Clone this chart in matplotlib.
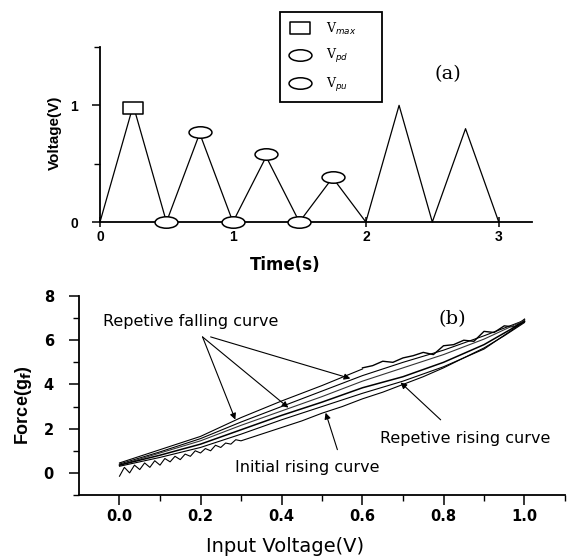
import matplotlib
matplotlib.use("Agg")
import matplotlib.pyplot as plt
from matplotlib.path import Path
from matplotlib.transforms import Affine2D
from matplotlib.ticker import FixedLocator

# ---------------- data: panel (a) ----------------
time_s = [0.0, 0.25, 0.5, 0.75, 1.0, 1.25, 1.5, 1.75, 2.0, 2.25, 2.5, 2.75, 3.0]
volt_v = [0.0, 1.0, 0.0, 0.76, 0.0, 0.56, 0.0, 0.38, 0.0, 1.0, 0.0, 0.8, 0.0]
vmax_t = [0.25]
vmax_v = [0.98]
vpd_t = [0.75, 1.25, 1.75]
vpd_v = [0.77, 0.58, 0.39]
vpu_t = [0.5, 1.0, 1.5]
vpu_v = [0.0, 0.0, 0.0]
legend_labels = ["V$_{max}$", "V$_{pd}$", "V$_{pu}$"]

# ---------------- data: panel (b) ----------------
grid_x = [0.0, 0.1, 0.2, 0.3, 0.4, 0.5, 0.6, 0.7, 0.8, 0.9, 1.0]
fall_top = [0.45, 1.05, 1.65, 2.5, 3.25, 3.95, 4.7, 5.2, 5.75, 6.4, 6.95]
fall_2 = [0.4, 0.95, 1.55, 2.3, 3.0, 3.7, 4.4, 5.0, 5.55, 6.2, 6.9]
fall_3 = [0.35, 0.9, 1.45, 2.15, 2.8, 3.45, 4.15, 4.75, 5.35, 6.05, 6.9]
rise_b = [0.35, 0.8, 1.3, 1.95, 2.6, 3.2, 3.85, 4.35, 5.0, 5.8, 6.85]
rise_a = [0.3, 0.7, 1.15, 1.75, 2.4, 3.0, 3.6, 4.15, 4.8, 5.6, 6.85]

top_wavy_x = [0.6, 0.625, 0.65, 0.675, 0.7, 0.725, 0.75, 0.775, 0.8, 0.825, 0.85,
              0.875, 0.9, 0.925, 0.95, 0.975, 1.0]
top_wavy_y = [4.75, 4.85, 5.05, 5.0, 5.2, 5.3, 5.45, 5.35, 5.75, 5.8, 6.0,
              5.95, 6.4, 6.35, 6.65, 6.6, 6.95]

init_x = [0.0, 0.012, 0.025, 0.037, 0.05, 0.062, 0.075, 0.087, 0.1, 0.112, 0.125,
          0.137, 0.15, 0.162, 0.175, 0.187, 0.2, 0.212, 0.225, 0.237, 0.25, 0.262,
          0.275, 0.287, 0.3, 0.35, 0.4, 0.45, 0.5, 0.55, 0.6, 0.65, 0.7, 0.75,
          0.8, 0.85, 0.9, 0.95, 1.0]
init_y = [-0.15, 0.25, 0.0, 0.35, 0.15, 0.45, 0.25, 0.55, 0.35, 0.65, 0.5, 0.75,
          0.6, 0.85, 0.75, 1.0, 0.9, 1.1, 1.0, 1.25, 1.15, 1.35, 1.3, 1.5, 1.45,
          1.75, 2.05, 2.35, 2.7, 3.0, 3.35, 3.65, 4.0, 4.35, 4.75, 5.2, 5.65, 6.2, 6.8]

# ---------------- figure ----------------
W, H = 572, 556
fig = plt.figure(figsize=(W / 100, H / 100), dpi=100)

def fx(px):
    return px / W

def fy(py):
    return 1 - py / H

# Panel (a)
axa = fig.add_axes([fx(100), fy(222), fx(532) - fx(100), fy(47) - fy(222)])
axa.plot(time_s, volt_v, color="black", lw=0.9, zorder=2, clip_on=False)

ell = Path.unit_circle().transformed(Affine2D().scale(1.0, 0.5))
rect = Path.unit_rectangle().transformed(Affine2D().translate(-0.5, -0.5).scale(1.0, 0.62))

axa.plot(vmax_t, vmax_v, ls="none", marker=rect, ms=15, mfc="white", mec="black",
         mew=1.1, zorder=3, clip_on=False, label=legend_labels[0])
axa.plot(vpd_t, vpd_v, ls="none", marker=ell, ms=16.5, mfc="white", mec="black",
         mew=1.1, zorder=3, clip_on=False, label=legend_labels[1])
axa.plot(vpu_t, vpu_v, ls="none", marker=ell, ms=16.5, mfc="white", mec="black",
         mew=1.1, zorder=3, clip_on=False, label=legend_labels[2])

axa.set_xlim(0, 3.25)
axa.set_ylim(0, 1.5)
for s in ("top", "right"):
    axa.spines[s].set_visible(False)
for s in ("left", "bottom"):
    axa.spines[s].set_linewidth(1.3)
axa.set_xticks([0, 1, 2, 3])
axa.set_yticks([0, 1])
axa.yaxis.set_minor_locator(FixedLocator([0.5, 1.5]))
axa.tick_params(axis="y", which="major", direction="out", length=6, width=1.1, pad=10,
                labelsize=10)
axa.tick_params(axis="y", which="minor", direction="out", length=4, width=1.0)
axa.tick_params(axis="x", which="major", direction="inout", length=7, width=1.1, pad=2,
                labelsize=10)
for lab in axa.get_xticklabels() + axa.get_yticklabels():
    lab.set_fontweight("bold")
    lab.set_family("Liberation Sans")

axa.set_xlabel("Time(s)", fontsize=12, fontweight="bold", family="DejaVu Sans")
axa.xaxis.set_label_coords((285 - 100) / 432, (222 - 265) / 175)
axa.xaxis.label.set_va("center")
axa.set_ylabel("Voltage(V)", fontsize=11, fontweight="bold", family="Liberation Sans")
axa.yaxis.set_label_coords((55 - 100) / 432, (222 - 133) / 175)
axa.yaxis.label.set_va("center")

axa.text(2.62, 1.27, "(a)", fontsize=14, family="DejaVu Serif", ha="center", va="center")

leg = fig.legend(loc="upper left",
                 bbox_to_anchor=(fx(280), fy(13), fx(382) - fx(280), 0.001),
                 bbox_transform=fig.transFigure, mode="expand", ncol=1,
                 fancybox=False, edgecolor="black", framealpha=1, numpoints=1,
                 prop={"family": "DejaVu Serif", "size": 9},
                 handlelength=1.9, handletextpad=1.1, labelspacing=0.85,
                 borderpad=0.65, borderaxespad=0)
leg.get_frame().set_linewidth(1.3)

# Panel (b)
axb = fig.add_axes([fx(79), fy(495), fx(565) - fx(79), fy(296) - fy(495)])
lw = 0.8
axb.plot(grid_x[:7], fall_top[:7], color="black", lw=lw)
axb.plot(top_wavy_x, top_wavy_y, color="black", lw=1.0)
axb.plot(grid_x, fall_2, color="black", lw=lw)
axb.plot(grid_x, fall_3, color="#333333", lw=lw)
axb.plot(grid_x, rise_b, color="black", lw=1.1)
axb.plot(grid_x, rise_a, color="black", lw=lw)
axb.plot(init_x, init_y, color="black", lw=lw)

axb.set_xlim(-0.1, 1.1)
axb.set_ylim(-1, 8)
for s in ("top", "right"):
    axb.spines[s].set_visible(False)
for s in ("left", "bottom"):
    axb.spines[s].set_linewidth(1.3)
axb.set_xticks([0.0, 0.2, 0.4, 0.6, 0.8, 1.0])
axb.set_xticklabels(["0.0", "0.2", "0.4", "0.6", "0.8", "1.0"])
axb.xaxis.set_minor_locator(FixedLocator([0.1, 0.3, 0.5, 0.7, 0.9, 1.1]))
axb.set_yticks([0, 2, 4, 6, 8])
axb.yaxis.set_minor_locator(FixedLocator([-1, 1, 3, 5, 7]))
axb.tick_params(axis="both", which="major", direction="out", length=7, width=1.1,
                labelsize=10.5)
axb.tick_params(axis="both", which="minor", direction="out", length=4, width=1.0)
axb.tick_params(axis="y", which="major", pad=11)
axb.tick_params(axis="x", which="major", pad=3)
for lab in axb.get_xticklabels() + axb.get_yticklabels():
    lab.set_fontweight("bold")

axb.set_xlabel("Input Voltage(V)", fontsize=14, family="DejaVu Sans")
axb.xaxis.set_label_coords((285 - 79) / 486, (495 - 547) / 199)
axb.xaxis.label.set_va("center")
axb.set_ylabel(r"Force(g$_\mathbf{f}$)", fontsize=13, fontweight="bold",
               family="Liberation Sans")
axb.yaxis.set_label_coords((24 - 79) / 486, (495 - 405) / 199)
axb.yaxis.label.set_va("center")

axb.text(0.822, 6.95, "(b)", fontsize=14, family="DejaVu Serif", ha="center", va="center")

arrow = dict(arrowstyle="-|>", lw=0.8, color="black", mutation_scale=9, shrinkA=0, shrinkB=0)
axb.text(0.175, 6.86, "Repetive falling curve", fontsize=11.5, ha="center", va="center")
axb.annotate("", xy=(0.286, 2.41), xytext=(0.205, 6.15), arrowprops=arrow)
axb.annotate("", xy=(0.417, 2.95), xytext=(0.205, 6.15), arrowprops=arrow)
axb.annotate("", xy=(0.570, 4.27), xytext=(0.225, 6.15), arrowprops=arrow)

axb.text(0.464, 0.23, "Initial rising curve", fontsize=11.5, ha="center", va="center")
axb.annotate("", xy=(0.509, 2.72), xytext=(0.538, 1.05), arrowprops=arrow)

axb.text(0.854, 1.55, "Repetive rising curve", fontsize=11.5, ha="center", va="center")
axb.annotate("", xy=(0.694, 4.09), xytext=(0.793, 2.4), arrowprops=arrow)

fig.savefig("out.png", dpi=100)
